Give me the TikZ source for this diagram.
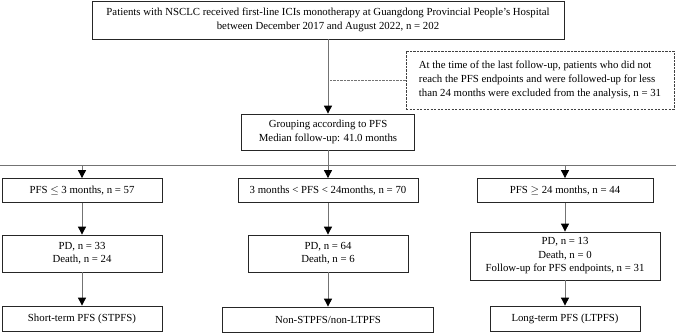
\documentclass[tikz,border=0pt]{standalone}
\usepackage{fontspec}
\setmainfont{Liberation Serif}
\usetikzlibrary{arrows.meta}
\begin{document}
\begin{tikzpicture}[x=1pt,y=-1pt,
  box/.style={draw=black!85, line width=0.8pt, inner sep=0pt, align=center, font=\fontsize{10.8}{13.5}\selectfont},
  dbox/.style={draw=black!75, line width=0.8pt, dash pattern=on 2.2pt off 1.3pt, inner xsep=9pt, inner ysep=0pt, align=left, font=\fontsize{10.8}{14}\selectfont},
  conn/.style={draw=black!55, line width=0.9pt},
  arr/.style={conn, -{Triangle[width=8pt,length=8pt,black]}},
  dline/.style={draw=black!55, line width=0.8pt, dash pattern=on 2.2pt off 1.3pt}]
\useasboundingbox (0,0) rectangle (676,334);
\fill[white] (0,0) rectangle (676,334);

\node[box, minimum width=472pt, minimum height=38pt] (top) at (328,20)
  {Patients with NSCLC received first-line ICIs monotherapy at Guangdong Provincial People’s Hospital\\between December 2017 and August 2022, n = 202};
\node[dbox, minimum width=268pt, minimum height=58pt] (excl) at (540,80)
  {At the time of the last follow-up, patients who did not\\reach the PFS endpoints and were followed-up for less\\than 24 months were excluded from the analysis, n = 31};
\node[box, minimum width=173pt, minimum height=36pt] (grp) at (328,132)
  {Grouping according to PFS\\Median follow-up: 41.0 months};

\node[box, minimum width=160pt, minimum height=24pt] (a1) at (82,190.5) {PFS $\leq$ 3 months, n = 57};
\node[box, minimum width=180pt, minimum height=24pt] (b1) at (328,190.5) {3 months < PFS < 24months, n = 70};
\node[box, minimum width=176pt, minimum height=24pt] (c1) at (565,190.5) {PFS $\geq$ 24 months, n = 44};

\node[box, minimum width=160pt, minimum height=37pt] (a2) at (82,253.5) {PD, n = 33\\Death, n = 24};
\node[box, minimum width=160pt, minimum height=37pt] (b2) at (328,253.5) {PD, n = 64\\Death, n = 6};
\node[box, minimum width=190pt, minimum height=48pt] (c2) at (565,256) {PD, n = 13\\Death, n = 0\\Follow-up for PFS endpoints, n = 31};

\node[box, minimum width=160pt, minimum height=25pt] (a3) at (82,318.5) {Short-term PFS (STPFS)};
\node[box, minimum width=211pt, minimum height=25pt] (b3) at (328,319.5) {Non-STPFS/non-LTPFS};
\node[box, minimum width=150pt, minimum height=25pt] (c3) at (565,318.5) {Long-term PFS (LTPFS)};

\coordinate (hl) at (0,165);
\coordinate (hr) at (676,165);

\draw[arr] (top) -- (grp);
\draw[dline] (excl.west) -- (excl.west -| grp.north);
\draw[conn] (hl) -- (hr);
\draw[arr] (grp) -- (b1);
\draw[arr] (a1.north |- hl) -- (a1.north);
\draw[arr] (c1.north |- hl) -- (c1.north);
\draw[arr] (a1) -- (a2);
\draw[arr] (b1) -- (b2);
\draw[arr] (c1) -- (c2);
\draw[arr] (a2) -- (a3);
\draw[arr] (b2) -- (b3);
\draw[arr] (c2) -- (c3);
\end{tikzpicture}
\end{document}
